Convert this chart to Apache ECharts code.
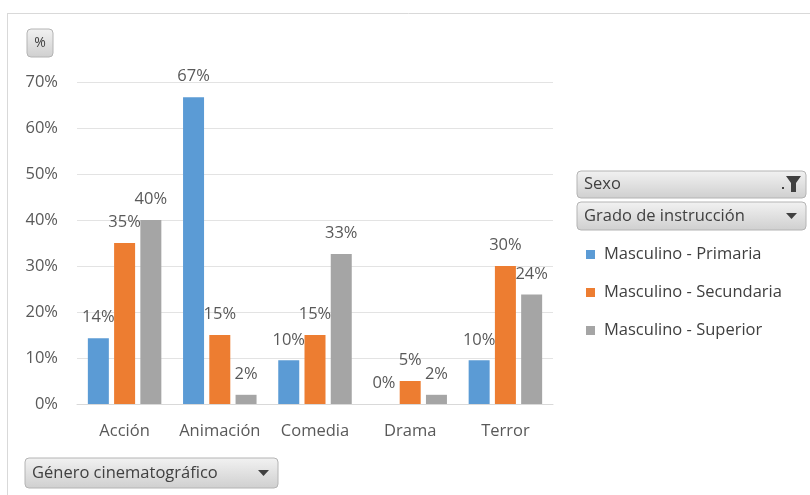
<!DOCTYPE html>
<html><head><meta charset="utf-8">
<script src="https://cdn.jsdelivr.net/npm/echarts@6/dist/echarts.min.js"></script>
<style>html,body{margin:0;padding:0;background:#fff}#c{width:810px;height:495px}</style>
</head><body><div id="c"></div>
<script>
var categories = ['Acción', 'Animación', 'Comedia', 'Drama', 'Terror'];
var primaria = [14.3, 66.7, 9.5, 0, 9.5];
var secundaria = [35, 15, 15, 5, 30];
var superior = [40, 2, 32.6, 2, 23.8];
var seriesNames = ['Masculino - Primaria', 'Masculino - Secundaria', 'Masculino - Superior'];
var colors = ['#5B9BD5', '#ED7D31', '#A5A5A5'];

var FONT = '"Open Sans", "Noto Sans", sans-serif';
var FS = 16.5;
var chart = echarts.init(document.getElementById('c'), null, {renderer: 'canvas'});

function btnGrad() {
  return new echarts.graphic.LinearGradient(0, 0, 0, 1, [
    {offset: 0, color: '#f2f2f2'}, {offset: 1, color: '#cfcfcf'}
  ]);
}
function button(x, y, w, h, text, arrow) {
  var els = [{
    type: 'rect', shape: {x: x, y: y, width: w, height: h, r: 4},
    style: {fill: btnGrad(), stroke: '#b4b4b4', lineWidth: 1}
  }, {
    type: 'text', x: x + 7, y: y + h / 2,
    style: {text: text, font: FS + 'px ' + FONT, fill: '#404040', verticalAlign: 'middle'}
  }];
  if (arrow) {
    var ax = x + w - 20, ay = y + h / 2 - 3;
    els.push({type: 'polygon', shape: {points: [[ax, ay], [ax + 11, ay], [ax + 5.5, ay + 6]]}, style: {fill: '#404040'}});
  }
  return els;
}

var graphics = [
  {type: 'line', shape: {x1: 7, y1: 13.5, x2: 810, y2: 13.5}, style: {stroke: '#d9d9d9', lineWidth: 1}},
  {type: 'line', shape: {x1: 7.5, y1: 13, x2: 7.5, y2: 495}, style: {stroke: '#d9d9d9', lineWidth: 1}}
];
graphics = graphics.concat(button(27, 29, 26, 28, '', false));
graphics.push({type: 'text', x: 40, y: 43, style: {text: '%', font: '14px ' + FONT, fill: '#404040', align: 'center', verticalAlign: 'middle'}});
graphics = graphics.concat(button(577, 171, 229, 27, 'Sexo', false));
graphics.push({type: 'polygon', shape: {points: [[786, 176], [801, 176], [796, 183], [796, 192], [791, 192], [791, 183]]}, style: {fill: '#404040'}});
graphics.push({type: 'rect', shape: {x: 782, y: 187, width: 2, height: 2}, style: {fill: '#404040'}});
graphics = graphics.concat(button(577, 202, 229, 28, 'Grado de instrucción', true));
graphics = graphics.concat(button(25, 458, 253, 30, 'Género cinematográfico', true));

var option = {
  animation: false,
  textStyle: {fontFamily: FONT},
  color: colors,
  grid: {left: 77, right: 257, top: 82, bottom: 91, containLabel: false},
  legend: {
    orient: 'vertical', left: 581, top: 241,
    itemWidth: 9, itemHeight: 9, itemGap: 21, icon: 'rect',
    textStyle: {fontSize: FS, color: '#404040', fontFamily: FONT, padding: [0, 0, 0, 4]},
    data: seriesNames
  },
  xAxis: {
    type: 'category', data: categories,
    axisLine: {lineStyle: {color: '#d9d9d9'}},
    axisTick: {show: false},
    axisLabel: {color: '#595959', fontSize: FS, margin: 19, fontFamily: FONT, interval: 0}
  },
  yAxis: {
    type: 'value', min: 0, max: 70, interval: 10,
    axisLine: {show: false}, axisTick: {show: false},
    splitLine: {lineStyle: {color: '#e3e3e3'}},
    axisLabel: {color: '#595959', fontSize: FS, margin: 19, formatter: '{value}%', fontFamily: FONT}
  },
  series: [primaria, secundaria, superior].map(function (d, i) {
    return {
      name: seriesNames[i], type: 'bar', data: d,
      barWidth: 21, barGap: '25%',
      itemStyle: {color: colors[i]},
      label: {
        show: true, position: 'top', distance: 12,
        color: '#595959', fontSize: FS, fontFamily: FONT,
        formatter: function (p) { return Math.round(p.value) + '%'; }
      }
    };
  }),
  graphic: graphics
};
chart.setOption(option);
</script></body></html>
